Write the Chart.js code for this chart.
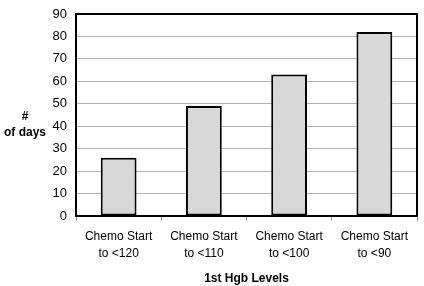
<!DOCTYPE html>
<html lang="en">
<head>
  <meta charset="UTF-8" />
  <title>Days by 1st Hgb Level</title>
  <script src="https://cdn.jsdelivr.net/npm/chart.js"></script>
  <style>
    html, body { margin: 0; padding: 0; background: #fff; }
    #wrap { width: 424px; height: 286px; position: relative; }
  </style>
</head>
<body>
  <div id="wrap"><canvas id="hgbChart"></canvas></div>

  <script>
    const categories = [
      ["Chemo Start", "to <120"],
      ["Chemo Start", "to <110"],
      ["Chemo Start", "to <100"],
      ["Chemo Start", "to <90"]
    ];
    const days = [26, 49, 63, 82];
    const yTicks = [0, 10, 20, 30, 40, 50, 60, 70, 80, 90];

    const fontFamily = "'Liberation Sans', Arial, sans-serif";

    // box round the plot area plus the horizontal y title
    const frame = {
      id: 'frame',
      afterDraw(chart) {
        const { ctx, chartArea: a } = chart;
        ctx.save();
        ctx.strokeStyle = '#000';
        ctx.lineWidth = 2;
        ctx.strokeRect(a.left, a.top, a.right - a.left, a.bottom - a.top);
        ctx.fillStyle = '#000';
        ctx.font = 'bold 12px ' + fontFamily;
        ctx.textAlign = 'center';
        ctx.textBaseline = 'middle';
        ctx.fillText('#', 25, 117);
        ctx.fillText('of days', 25, 133);
        ctx.restore();
      }
    };

    new Chart(document.getElementById('hgbChart'), {
      type: 'bar',
      data: {
        labels: categories,
        datasets: [{
          data: days,
          backgroundColor: '#d8d8d8',
          borderColor: '#000',
          borderWidth: 2,
          borderSkipped: false,
          barPercentage: 0.42,
          categoryPercentage: 1
        }]
      },
      options: {
        responsive: true,
        maintainAspectRatio: false,
        animation: false,
        layout: { padding: { left: 0, right: 7, top: 14, bottom: 0 } },
        plugins: {
          legend: { display: false },
          tooltip: { enabled: false }
        },
        scales: {
          x: {
            offset: true,
            grid: { offset: true, drawOnChartArea: false, color: '#999', tickLength: 5 },
            border: { color: '#000', width: 2 },
            ticks: { color: '#000', font: { family: fontFamily, size: 12, lineHeight: 1.35 }, padding: 8, maxRotation: 0 },
            title: {
              display: true,
              text: '1st Hgb Levels',
              color: '#000',
              font: { family: fontFamily, size: 12, weight: 'bold' },
              padding: { top: 4, bottom: 0 }
            },
            afterFit: s => { s.height = 70; s.paddingLeft = 0; s.paddingRight = 0; }
          },
          y: {
            min: 0,
            max: 90,
            afterBuildTicks: s => { s.ticks = yTicks.map(v => ({ value: v })); },
            grid: { color: '#b4b4b4', drawTicks: false },
            border: { color: '#000', width: 2 },
            ticks: { color: '#000', font: { family: fontFamily, size: 13 }, padding: 9 },
            afterFit: s => { s.width = 76; s.paddingTop = 0; s.paddingBottom = 0; }
          }
        }
      },
      plugins: [frame]
    });
  </script>
</body>
</html>
